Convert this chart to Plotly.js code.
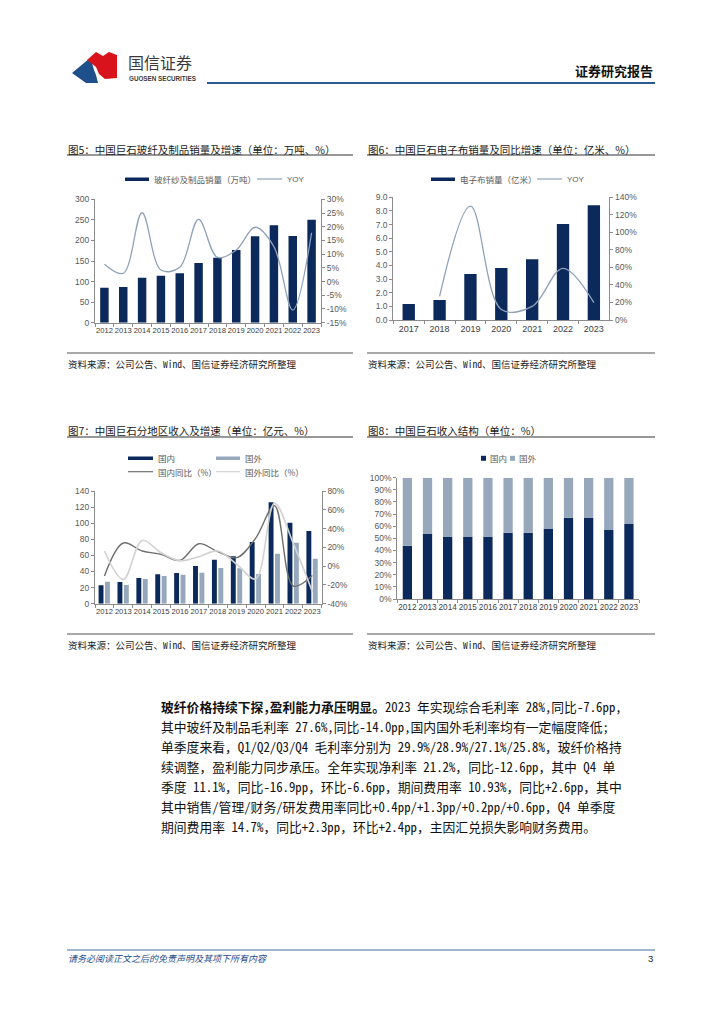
<!DOCTYPE html>
<html><head><meta charset="utf-8">
<script src="https://cdn.plot.ly/plotly-3.0.1.min.js"></script>
<style>html,body{margin:0;padding:0;background:#fff}#c{width:724px;height:1024px}</style>
</head><body><div id="c"></div>
<script>
// ---------- data ----------
const years12 = ['2012','2013','2014','2015','2016','2017','2018','2019','2020','2021','2022','2023'];
const fiberSales = [85,87,109,114,120,145,158,177,210,237,211,250];
const fiberYoY = [6.3,3.0,25.1,4.2,5.2,22.7,8.8,11.5,19.8,12.7,-10.4,17.8];
const fiberYoYTicks = [-15,-10,-5,0,5,10,15,20,25,30];

const years7 = ['2017','2018','2019','2020','2021','2022','2023'];
const clothSales = [1.17,1.47,3.37,3.81,4.45,7.04,8.41];
const clothYoY = [null,27,130,12,15.5,59,19.8];

const domRev = [22.8,26.9,31.9,36.5,38.1,46.8,54.7,58.8,76.6,125.9,100.7,90.3];
const forRev = [27.3,23.2,30.7,34.4,36.0,38.5,44.3,43.9,36.9,62.1,75.8,55.9];
const domYoY = [-10.5,24.6,16.1,12.5,6.1,23.9,15.4,9.0,29.6,64.4,-21.2,-10.0];
const forYoY = [16.1,-14.1,27.4,14.3,5.8,10.0,16.1,2.0,-13.7,67.0,24.0,-27.0];
const regionYoYTicks = [-40,-20,0,20,40,60,80];

const domShare = [44.0,53.6,51.1,51.1,51.1,54.7,54.7,57.7,67.0,66.8,56.9,61.8];
const forShare = [56.0,46.4,48.9,48.9,48.9,45.3,45.3,42.3,33.0,33.2,43.1,38.2];

// ---------- helpers ----------
const W = 724, H = 1024;
const X = p => p / W;
const Y = p => 1 - p / H;
const NAVY = '#0b2a5b', GREY = '#97a8bc';
const CJK = 'Noto Sans CJK SC, sans-serif';
const MONO = 'Noto Sans Mono CJK SC, Noto Sans CJK SC, sans-serif';
const NUM = 'Liberation Sans, Arial, Noto Sans CJK SC, sans-serif';
const pct = v => (v < 0 ? '-' + Math.abs(v) : '' + v) + '%';

function ax(extra) {
  return Object.assign({
    showgrid:false, zeroline:false, showline:true, linecolor:'#8c8c8c', linewidth:1,
    ticks:'outside', ticklen:3, tickcolor:'#8c8c8c',
    tickfont:{family:NUM, size:8.5, color:'#595959'}, fixedrange:true
  }, extra);
}
function xax(n, x0, x1, anchor, size) {
  return ax({type:'category', domain:[X(x0), X(x1)], range:[-0.5, n-0.5], anchor:anchor,
    tickson:'boundaries', tickangle:0, tickfont:{family:NUM, size:size||7.6, color:'#404040'}});
}
function path(pts) {
  return 'M ' + pts.map(p => X(p[0]) + ',' + Y(p[1])).join(' L ') + ' Z';
}

const shapes = [];
const ann = [];
function line(x0,y0,x1,y1,color,w){ shapes.push({type:'line',xref:'paper',yref:'paper',x0:X(x0),y0:Y(y0),x1:X(x1),y1:Y(y1),line:{color:color,width:w}}); }
function rect(x0,y0,x1,y1,color){ shapes.push({type:'rect',xref:'paper',yref:'paper',x0:X(x0),y0:Y(y0),x1:X(x1),y1:Y(y1),fillcolor:color,line:{width:0}}); }
function text(x,y,t,size,color,opts,fam){
  ann.push(Object.assign({xref:'paper',yref:'paper',x:X(x),y:Y(y),text:t,showarrow:false,
    xanchor:'left',yanchor:'middle',font:{family:fam||CJK,size:size,color:color}}, opts||{}));
}

// ---------- header ----------
shapes.push({type:'path',xref:'paper',yref:'paper',path:path([[72,73],[90,58],[92,63],[94,70],[96,75],[98,83],[86,83]]),fillcolor:'#1d4f8b',line:{width:0}});
shapes.push({type:'path',xref:'paper',yref:'paper',path:path([[87,60],[96,52],[103,56],[109,52],[117,55],[117,78],[105,79],[99,74],[96,67]]),fillcolor:'#d8131b',line:{width:0}});
text(126,62,'国信证券',16,'#3a3a3a');
text(127,78,'<b>GUOSEN SECURITIES</b>',6.3,'#3a3a3a',null,NUM);
text(655,70,'<b>证券研究报告</b>',13,'#111',{xanchor:'right'});
line(207,83,655,83,'#2b5b8e',2);

// ---------- chart titles / sources ----------
text(66,149,'图5：中国巨石玻纤及制品销量及增速（单位：万吨、%）',10.5,'#1a1a1a');
text(366,149,'图6：中国巨石电子布销量及同比增速（单位：亿米、%）',10.5,'#1a1a1a');
text(66,430,'图7：中国巨石分地区收入及增速（单位：亿元、%）',10.5,'#1a1a1a');
text(366,430,'图8：中国巨石收入结构（单位：%）',10.5,'#1a1a1a');
line(67,155,353,155,'#333',1.2); line(367,155,655,155,'#333',1.2);
line(67,437,353,437,'#333',1.2); line(367,437,655,437,'#333',1.2);

line(67,353,353,353,'#8c8c8c',1.5); line(367,353,655,353,'#8c8c8c',1.5);
line(67,634,353,634,'#8c8c8c',1.5); line(367,634,655,634,'#8c8c8c',1.5);
const src = '资料来源：公司公告、Wind、国信证券经济研究所整理';
text(66,364,src,9.5,'#222',null,MONO); text(366,364,src,9.5,'#222',null,MONO);
text(66,645,src,9.5,'#222',null,MONO); text(366,645,src,9.5,'#222',null,MONO);

// ---------- legends ----------
rect(125,177.5,149,181,NAVY); text(152,179,'玻纤纱及制品销量（万吨）',8.5,'#595959');
line(257,179,282,179,'#8ea2ba',1.2); text(285,179,'YOY',8,'#595959',null,NUM);
rect(431,177.5,455,181,NAVY); text(458,179,'电子布销量（亿米）',8.5,'#595959');
line(537,179,562,179,'#8ea2ba',1.2); text(565,179,'YOY',8,'#595959',null,NUM);
rect(128,456.5,153,460,NAVY); text(156,458.3,'国内',8.5,'#595959');
rect(216,456.5,240,460,GREY); text(243,458.3,'国外',8.5,'#595959');
line(128,471.7,153,471.7,'#6e6e6e',1.2); text(156,471.7,'国内同比（%）',8.5,'#595959');
line(216,471.7,240,471.7,'#d2d2d2',1.2); text(243,471.7,'国外同比（%）',8.5,'#595959');
rect(481,455.8,486,460.8,NAVY); text(488,458.3,'国内',8.5,'#595959');
rect(510,455.8,515,460.8,GREY); text(517,458.3,'国外',8.5,'#595959');

// ---------- body text ----------
const para = [
 '<b>玻纤价格持续下探,盈利能力承压明显。</b>2023 年实现综合毛利率 28%,同比-7.6pp,',
 '其中玻纤及制品毛利率 27.6%,同比-14.0pp,国内国外毛利率均有一定幅度降低;',
 '单季度来看，Q1/Q2/Q3/Q4 毛利率分别为 29.9%/28.9%/27.1%/25.8%，玻纤价格持',
 '续调整，盈利能力同步承压。全年实现净利率 21.2%，同比-12.6pp，其中 Q4 单',
 '季度 11.1%，同比-16.9pp，环比-6.6pp，期间费用率 10.93%，同比+2.6pp，其中',
 '其中销售/管理/财务/研发费用率同比+0.4pp/+1.3pp/+0.2pp/+0.6pp，Q4 单季度',
 '期间费用率 14.7%，同比+2.3pp，环比+2.4pp，主因汇兑损失影响财务费用。'
];
para.forEach((t,i) => text(159,706+i*20,t,12.8,'#111',null,MONO));

// ---------- footer ----------
line(67,950,655,950,'#3c6e9e',1);
text(66,958,'<i>请务必阅读正文之后的免责声明及其项下所有内容</i>',9,'#1f4e8a');
text(655,958,'3',9.5,'#222',{xanchor:'right'},NUM);

// ---------- traces ----------
const traces = [
 {type:'bar',x:years12,y:fiberSales,xaxis:'x',yaxis:'y',width:0.45,marker:{color:NAVY}},
 {type:'scatter',mode:'lines',x:years12,y:fiberYoY,xaxis:'x',yaxis:'y2',line:{color:'#8ea2ba',width:1.3,shape:'spline',smoothing:1}},
 {type:'bar',x:years7,y:clothSales,xaxis:'x2',yaxis:'y3',width:0.4,marker:{color:NAVY}},
 {type:'scatter',mode:'lines',x:years7,y:clothYoY,xaxis:'x2',yaxis:'y4',connectgaps:false,line:{color:'#8ea2ba',width:1.3,shape:'spline',smoothing:1}},
 {type:'bar',x:years12,y:domRev,xaxis:'x3',yaxis:'y5',offset:-0.31,width:0.26,marker:{color:NAVY}},
 {type:'bar',x:years12,y:forRev,xaxis:'x3',yaxis:'y5',offset:0.03,width:0.26,marker:{color:GREY}},
 {type:'scatter',mode:'lines',x:years12,y:domYoY,xaxis:'x3',yaxis:'y6',line:{color:'#6e6e6e',width:1.4,shape:'spline',smoothing:1}},
 {type:'scatter',mode:'lines',x:years12,y:forYoY,xaxis:'x3',yaxis:'y6',line:{color:'#d2d2d2',width:1.6,shape:'spline',smoothing:1}},
 {type:'bar',x:years12,y:domShare,xaxis:'x4',yaxis:'y7',width:0.46,marker:{color:NAVY}},
 {type:'bar',x:years12,y:forShare,base:domShare,xaxis:'x4',yaxis:'y7',width:0.46,marker:{color:GREY}}
];

const layout = {
  width:W, height:H, margin:{l:0,r:0,t:0,b:0},
  paper_bgcolor:'#fff', plot_bgcolor:'rgba(0,0,0,0)',
  showlegend:false, hovermode:false, barmode:'overlay',
  xaxis: xax(12,95,321,'y'),
  yaxis: ax({domain:[Y(322.7),Y(199.3)], range:[0,300], dtick:50, anchor:'x'}),
  yaxis2: ax({overlaying:'y', side:'right', anchor:'x', range:[-15,30], tickvals:fiberYoYTicks, ticktext:fiberYoYTicks.map(pct)}),
  xaxis2: xax(7,393.3,609.3,'y3',9),
  yaxis3: ax({domain:[Y(320),Y(197.3)], range:[0,9], dtick:1, tickformat:'.1f', anchor:'x2'}),
  yaxis4: ax({overlaying:'y3', side:'right', anchor:'x2', range:[0,140], dtick:20, ticksuffix:'%'}),
  xaxis3: xax(12,95,321.7,'y5'),
  yaxis5: ax({domain:[Y(603.7),Y(491)], range:[0,140], dtick:20, anchor:'x3'}),
  yaxis6: ax({overlaying:'y5', side:'right', anchor:'x3', range:[-40,80], tickvals:regionYoYTicks, ticktext:regionYoYTicks.map(pct)}),
  xaxis4: xax(12,397.3,639,'y7',8.2),
  yaxis7: ax({domain:[Y(599),Y(477.7)], range:[0,100], dtick:10, ticksuffix:'%', anchor:'x4'}),
  shapes: shapes, annotations: ann
};
Plotly.newPlot('c', traces, layout, {staticPlot:true, displayModeBar:false});
</script></body></html>
